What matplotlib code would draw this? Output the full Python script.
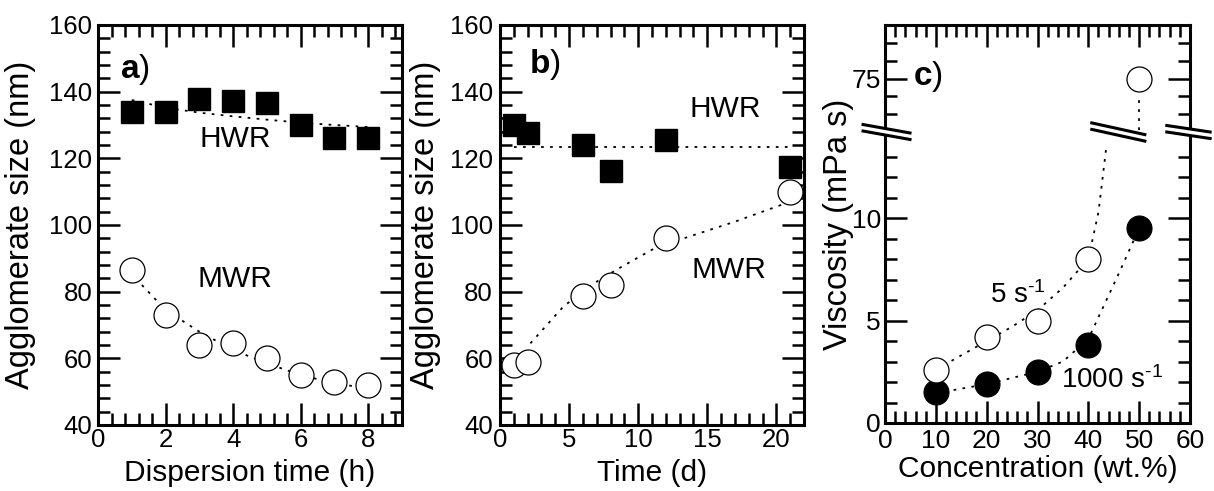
import numpy as np
import matplotlib
matplotlib.use("Agg")
import matplotlib.pyplot as plt
from matplotlib.ticker import MultipleLocator, FixedLocator
from matplotlib.lines import Line2D
from matplotlib.patches import Polygon

plt.rcParams['font.family'] = ['Liberation Sans', 'DejaVu Sans']
plt.rcParams['mathtext.fontset'] = 'custom'
plt.rcParams['mathtext.rm'] = 'Liberation Sans'
plt.rcParams['mathtext.it'] = 'Liberation Sans:italic'
plt.rcParams['mathtext.bf'] = 'Liberation Sans:bold'

# a) agglomerate size vs dispersion time
disp_time = [1, 2, 3, 4, 5, 6, 7, 8]
hwr_a = [134.0, 134.0, 137.7, 137.3, 136.5, 130.0, 126.0, 126.0]
mwr_a = [86.5, 73.0, 64.0, 64.5, 60.0, 55.0, 53.0, 52.0]
hwr_a_fit_x = [1, 2, 3, 4, 5, 6, 7, 8]
hwr_a_fit = [137.5, 135.2, 133.7, 132.6, 131.6, 130.7, 130.0, 129.4]
mwr_a_fit_x = [1.3, 2, 3, 4, 5, 6, 7, 8]
mwr_a_fit = [82.0, 74.5, 68.0, 62.5, 58.5, 55.0, 52.5, 51.0]

# b) agglomerate size vs storage time
store_time = [1, 2, 6, 8, 12, 21]
hwr_b = [130.0, 127.7, 124.0, 116.3, 125.5, 117.3]
mwr_b = [58.0, 59.0, 78.8, 82.0, 96.0, 110.0]
hwr_b_fit_x = [1, 21]
hwr_b_fit = [123.3, 123.3]
mwr_b_fit_x = [2.2, 4.6, 6.8, 8.6, 11.4, 13.3, 17, 21]
mwr_b_fit = [64.5, 75.6, 82.5, 87.0, 93.5, 96.0, 101.0, 107.0]

# c) viscosity vs concentration
conc = [10, 20, 30, 40, 50]
visc_5 = [2.6, 4.2, 5.0, 8.0, 75.0]
visc_1000 = [1.5, 1.9, 2.5, 3.8, 9.5]
fit5_x = [10, 15, 20, 25, 30, 35, 40, 42, 43.6]
fit5 = [2.6, 3.3, 4.0, 4.7, 5.5, 6.6, 8.0, 10.3, 13.6]
fit5_top_x = [50, 50]
fit5_top = [60.5, 69.5]
fit1000_x = [10, 20, 30, 35, 40, 43, 46, 50]
fit1000 = [1.45, 1.9, 2.5, 3.0, 4.1, 5.7, 7.3, 9.5]

TICK_FS = 18.5
XLAB_FS = 21.5
YLAB_FS = 23.5
NOTE_FS = 21.5
DOT = (0, (1.5, 3.5))
W, H = 1214, 491

fig = plt.figure(figsize=(W / 100, H / 100), dpi=100)


def px_axes(l, r, t, b):
    return fig.add_axes([l / W, 1 - b / H, (r - l) / W, (b - t) / H])


def style(ax, xmaj, xmin, ymaj, ymin, ypad=4, xpad=2, fs=TICK_FS):
    for s in ax.spines.values():
        s.set_linewidth(2.2)
    ax.xaxis.set_major_locator(MultipleLocator(xmaj))
    ax.xaxis.set_minor_locator(MultipleLocator(xmin))
    if ymaj is not None:
        ax.yaxis.set_major_locator(MultipleLocator(ymaj))
        ax.yaxis.set_minor_locator(MultipleLocator(ymin))
    ax.tick_params(which='both', direction='in', top=True, right=True, width=1.8)
    ax.tick_params(which='major', length=16)
    ax.tick_params(which='minor', length=8.5)
    ax.tick_params(axis='x', labelsize=fs, pad=xpad)
    ax.tick_params(axis='y', labelsize=fs, pad=ypad)


def scatter_pair(ax, x, filled, open_, sq=True):
    if sq:
        ax.plot(x, filled, 's', ms=16.5, mfc='black', mec='black', zorder=3)
    else:
        ax.plot(x, filled, 'o', ms=18, mfc='black', mec='black', mew=0.8, zorder=3)
    ax.plot(x, open_, 'o', ms=18, mfc='white', mec='black', mew=0.9, zorder=3)


# panel a
ax_a = px_axes(98, 402, 25, 425)
ax_a.plot(hwr_a_fit_x, hwr_a_fit, color='black', lw=1.3, ls=DOT, zorder=2)
ax_a.plot(mwr_a_fit_x, mwr_a_fit, color='black', lw=1.3, ls=DOT, zorder=2)
scatter_pair(ax_a, disp_time, hwr_a, mwr_a)
ax_a.set_xlim(0, 9)
ax_a.set_ylim(40, 160)
style(ax_a, 2, 0.4, 20, 4)
ax_a.set_xlabel('Dispersion time (h)', fontsize=XLAB_FS)
ax_a.set_ylabel('Agglomerate size (nm)', fontsize=YLAB_FS)
ax_a.xaxis.set_label_coords(0.5, -0.085)
ax_a.yaxis.set_label_coords(-0.204, 0.5)
ax_a.text(4.05, 123.5, 'HWR', fontsize=NOTE_FS, ha='center', va='baseline')
ax_a.text(4.05, 81.5, 'MWR', fontsize=NOTE_FS, ha='center', va='baseline')
ax_a.text(0.66, 144, r'$\mathbf{a}$)', fontsize=24, ha='left', va='baseline')

# panel b
ax_b = px_axes(500, 804, 25, 425)
ax_b.plot(hwr_b_fit_x, hwr_b_fit, color='black', lw=1.3, ls=DOT, zorder=2)
ax_b.plot(mwr_b_fit_x, mwr_b_fit, color='black', lw=1.3, ls=DOT, zorder=2)
scatter_pair(ax_b, store_time, hwr_b, mwr_b)
ax_b.set_xlim(0, 22)
ax_b.set_ylim(40, 160)
style(ax_b, 5, 1, 20, 4, ypad=5)
ax_b.set_xlabel('Time (d)', fontsize=XLAB_FS)
ax_b.set_ylabel('Agglomerate size (nm)', fontsize=YLAB_FS)
ax_b.xaxis.set_label_coords(0.5, -0.085)
ax_b.yaxis.set_label_coords(-0.194, 0.5)
ax_b.text(16.3, 132.5, 'HWR', fontsize=NOTE_FS, ha='center', va='baseline')
ax_b.text(16.6, 84, 'MWR', fontsize=NOTE_FS, ha='center', va='baseline')
ax_b.text(2.1, 145.5, r'$\mathbf{b}$)', fontsize=24, ha='left', va='baseline')

# panel c: broken y axis (lower 0-14.2, upper 60-90)
ax_lo = px_axes(885, 1190, 132, 423)
ax_hi = px_axes(885, 1190, 25, 132)
for ax in (ax_lo, ax_hi):
    ax.plot(fit5_x, fit5, color='black', lw=1.3, ls=DOT, zorder=2)
    ax.plot(fit1000_x, fit1000, color='black', lw=1.3, ls=DOT, zorder=2)
    ax.plot(fit5_top_x, fit5_top, color='black', lw=1.3, ls=DOT, zorder=2)
    scatter_pair(ax, conc, visc_1000, visc_5, sq=False)
    ax.set_xlim(0, 60)

ax_lo.set_ylim(0, 14.2)
style(ax_lo, 10, 2, 5, 1, ypad=3, xpad=4.5, fs=19)
ax_lo.yaxis.set_minor_locator(FixedLocator(list(range(1, 14))))
ax_lo.spines['top'].set_visible(False)
ax_lo.tick_params(which='both', top=False)

ax_hi.set_ylim(60, 90)
style(ax_hi, 10, 2, None, None, ypad=3, fs=19)
ax_hi.set_yticks([75])
ax_hi.yaxis.set_minor_locator(FixedLocator([65, 70, 80, 85]))
ax_hi.spines['bottom'].set_visible(False)
ax_hi.tick_params(which='both', bottom=False, labelbottom=False)

ax_lo.set_xlabel('Concentration (wt.%)', fontsize=XLAB_FS)
ax_lo.xaxis.set_label_coords(0.5, -0.11)
ax_lo.set_ylabel('Viscosity (mPa s)', fontsize=YLAB_FS)
ax_lo.yaxis.set_label_coords(-0.1, 0.684)
ax_lo.text(20.66, 5.87, r'5 s$^{\text{-}1}$', fontsize=20, ha='left', va='baseline')
ax_lo.text(34.7, 1.71, r'1000 s$^{\text{-}1}$', fontsize=20, ha='left', va='baseline')
ax_hi.text(5.6, 73.3, r'$\mathbf{c}$)', fontsize=24, ha='left', va='baseline')


# double-slash break marks across the top edge of the lower axes
def break_mark(ax, x0, x1, slope=0.18, gap_px=6.5):
    pos = ax.get_position()
    wpx, hpx = pos.width * W, pos.height * H
    k = slope * wpx / hpx
    g = gap_px / hpx / 2
    xc = (x0 + x1) / 2
    ya = 1 - k * (x0 - xc)
    yb = 1 - k * (x1 - xc)
    fig.add_artist(Polygon([(x0, ya - g), (x1, yb - g), (x1, yb + g), (x0, ya + g)],
                           closed=True, facecolor='white', edgecolor='none',
                           transform=ax.transAxes, zorder=10))
    for d in (-g, g):
        fig.add_artist(Line2D([x0, x1], [ya + d, yb + d], color='black', lw=2.2,
                              transform=ax.transAxes, zorder=11))


break_mark(ax_lo, -0.072, 0.082)
break_mark(ax_lo, 0.678, 0.852, slope=0.22)
break_mark(ax_lo, 0.924, 1.066, slope=0.15)

fig.savefig('out.png', dpi=100)
